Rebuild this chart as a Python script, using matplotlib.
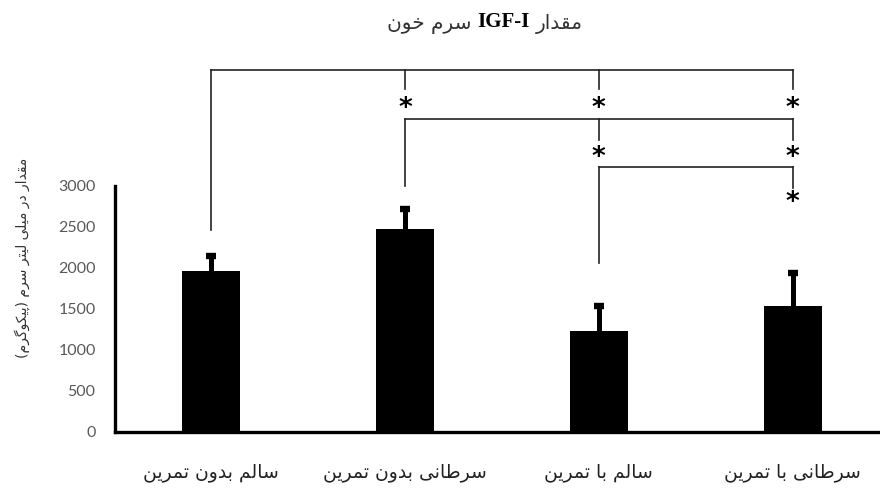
import matplotlib
matplotlib.use("Agg")
import matplotlib.pyplot as plt

# ---------------- data ----------------
categories = ["سالم بدون تمرین", "سرطانی بدون تمرین", "سالم با تمرین", "سرطانی با تمرین"]
means = [1960, 2470, 1230, 1540]
errors = [190, 250, 310, 400]
yticks = [0, 500, 1000, 1500, 2000, 2500, 3000]
title_fa_right = "مقدار"
title_latin = "IGF-I"
title_fa_left = "سرم خون"
ylabel = "مقدار در میلی لیتر سرم (پیکوگرم)"

# significance brackets: (left index, drop indices with star, bar level, left drop end, right drop end, star level)
brackets = [
    (0, [1, 2, 3], 4415, 2463, 4183, 3940),
    (1, [2, 3], 3817, 3000, 3561, 3340),
    (2, [3], 3232, 2061, 2976, 2790),
]

# ---------------- minimal Persian shaper ----------------
FORMS = {
    '\u0627': ('\uFE8D', '\uFE8E', None, None),
    '\u0628': ('\uFE8F', '\uFE90', '\uFE91', '\uFE92'),
    '\u062A': ('\uFE95', '\uFE96', '\uFE97', '\uFE98'),
    '\u062E': ('\uFEA5', '\uFEA6', '\uFEA7', '\uFEA8'),
    '\u062F': ('\uFEA9', '\uFEAA', None, None),
    '\u0631': ('\uFEAD', '\uFEAE', None, None),
    '\u0633': ('\uFEB1', '\uFEB2', '\uFEB3', '\uFEB4'),
    '\u0637': ('\uFEC1', '\uFEC2', '\uFEC3', '\uFEC4'),
    '\u0642': ('\uFED5', '\uFED6', '\uFED7', '\uFED8'),
    '\u0644': ('\uFEDD', '\uFEDE', '\uFEDF', '\uFEE0'),
    '\u0645': ('\uFEE1', '\uFEE2', '\uFEE3', '\uFEE4'),
    '\u0646': ('\uFEE5', '\uFEE6', '\uFEE7', '\uFEE8'),
    '\u0648': ('\uFEED', '\uFEEE', None, None),
    '\u06CC': ('\uFBFC', '\uFBFD', '\uFBFE', '\uFBFF'),
    '\u064A': ('\uFEF1', '\uFEF2', '\uFEF3', '\uFEF4'),
    '\u067E': ('\uFB56', '\uFB57', '\uFB58', '\uFB59'),
    '\u06A9': ('\uFB8E', '\uFB8F', '\uFB90', '\uFB91'),
    '\u06AF': ('\uFB92', '\uFB93', '\uFB94', '\uFB95'),
}


def shape(text):
    out = []
    n = len(text)
    for i, c in enumerate(text):
        if c not in FORMS:
            out.append(c)
            continue
        prev = text[i - 1] if i > 0 else None
        nxt = text[i + 1] if i + 1 < n else None
        jp = prev in FORMS and FORMS[prev][2] is not None
        jn = FORMS[c][2] is not None and nxt in FORMS
        iso, fin, ini, med = FORMS[c]
        if jp and jn:
            out.append(med)
        elif jp:
            out.append(fin)
        elif jn:
            out.append(ini)
        else:
            out.append(iso)
    s = ''.join(out)[::-1]
    s = s.translate(str.maketrans({'(': ')', ')': '('}))
    return s


FA = ["DejaVu Sans"]

fig = plt.figure(figsize=(8.8, 4.92), dpi=100)
ax = fig.add_axes([0.1307, 0.122, 0.8693, 0.500])

x = list(range(len(categories)))
tops = [m + e for m, e in zip(means, errors)]
ax.bar(x, means, width=0.30, color="black", zorder=2)
ax.vlines(x, means, tops, color="black", lw=3.6, zorder=3)
ax.plot(x, tops, linestyle="none", marker="_", markersize=7, markeredgewidth=4.6,
        color="black", zorder=3)

ax.set_xlim(-0.495, 3.45)
ax.set_ylim(0, 3000)
ax.set_yticks(yticks)
ax.set_yticklabels([str(t) for t in yticks], fontfamily="Lato", fontsize=11.5, color="#595959")
ax.set_xticks(x)
ax.set_xticklabels([shape(c) for c in categories], fontfamily=FA, fontsize=13.5, color="#222222")
ax.tick_params(axis="y", length=0, pad=14)
ax.tick_params(axis="x", length=0, pad=22)
for s in ["top", "right"]:
    ax.spines[s].set_visible(False)
ax.spines["left"].set_linewidth(2.4)
ax.spines["bottom"].set_linewidth(2.4)

# brackets
lkw = dict(color="#222222", lw=1.2, clip_on=False, zorder=1)
for left, drops, level, left_end, right_end, star_y in brackets:
    right = drops[-1]
    ax.plot([left, right], [level, level], **lkw)
    ax.plot([left, left], [level, left_end], **lkw)
    for d in drops:
        ax.plot([d, d], [level, right_end], **lkw)
        ax.text(d, star_y, "*", ha="center", va="center", fontsize=19,
                fontfamily="DejaVu Sans", fontweight="bold", color="black", clip_on=False)

# title
fig.text(536 / 880, 1 - 24 / 492, shape(title_fa_right), ha="left", va="center",
         fontfamily=FA, fontsize=14.5, color="#333333")
fig.text(503 / 880, 1 - 22 / 492, title_latin, ha="center", va="center",
         fontfamily="Liberation Serif", fontweight="bold", fontsize=15, color="black")
fig.text(471 / 880, 1 - 24 / 492, shape(title_fa_left), ha="right", va="center",
         fontfamily=FA, fontsize=14.5, color="#333333")

# y label
fig.text(22 / 880, 1 - 258 / 492, shape(ylabel), rotation=90, ha="center", va="center",
         fontfamily=FA, fontsize=10, color="#333333")

fig.savefig("out.png", dpi=100, facecolor="white")
